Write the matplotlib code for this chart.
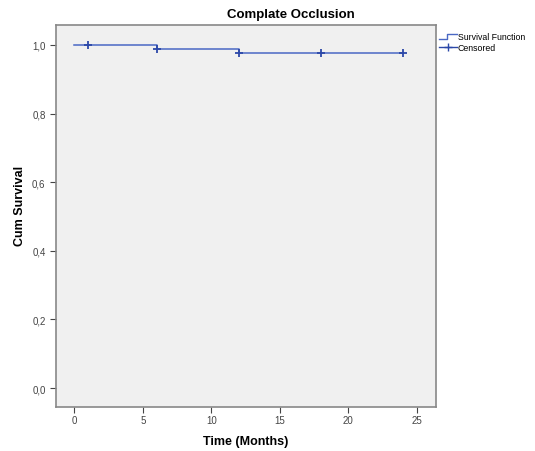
import matplotlib
matplotlib.use('Agg')
import matplotlib.pyplot as plt
from matplotlib.lines import Line2D
from matplotlib.legend_handler import HandlerBase
from matplotlib.ticker import FuncFormatter

plt.rcParams['font.family'] = ['Liberation Sans', 'DejaVu Sans']

# Kaplan-Meier estimate
step_times = [0, 6, 12, 24]
step_surv = [1.0, 0.988, 0.976, 0.976]
cens_times = [1, 6, 12, 18, 24]
cens_surv = [1.0, 0.988, 0.976, 0.976, 0.976]

line_col = '#4a68c4'
mark_col = '#2c48a8'


# step-shaped legend handle, like SPSS draws it
class StepHandler(HandlerBase):
    def create_artists(self, legend, orig, xd, yd, w, h, fontsize, trans):
        xs = [xd, xd + w * 0.45, xd + w * 0.45, xd + w]
        ys = [yd + h * 0.1, yd + h * 0.1, yd + h * 0.8, yd + h * 0.8]
        ln = Line2D(xs, ys, color=line_col, lw=1, transform=trans)
        return [ln]


fig = plt.figure(figsize=(5.35, 4.52), dpi=100)
ax = fig.add_axes([56 / 535, 1 - 408 / 452, 380 / 535, 382 / 452])
ax.set_facecolor('#f0f0f0')

ax.step(step_times, step_surv, where='post', color=line_col, lw=1.1)
ax.plot(cens_times, cens_surv, linestyle='none', marker='+', markersize=6,
        mew=1.3, color=mark_col)

ax.set_xlim(-1.35, 26.4)
ax.set_ylim(-0.055, 1.058)
ax.set_xticks([0, 5, 10, 15, 20, 25])
ax.set_yticks([0.0, 0.2, 0.4, 0.6, 0.8, 1.0])
ax.yaxis.set_major_formatter(FuncFormatter(lambda v, p: f'{v:.1f}'.replace('.', ',')))
ax.tick_params(labelsize=7, colors='#444444', length=4, width=0.8, direction='out')
ax.tick_params(axis='x', pad=2)
for s in ax.spines.values():
    s.set_color('#888888')
    s.set_linewidth(1.2)

ax.set_xlabel('Time (Months)', fontsize=9, fontweight='bold', labelpad=7)
ax.set_ylabel('Cum Survival', fontsize=9, fontweight='bold')
ax.yaxis.set_label_coords(-0.08, 0.53)
fig.text(291 / 535, 1 - 15 / 452, 'Complate Occlusion', fontsize=9.5,
         fontweight='bold', ha='center', va='center')

h1 = Line2D([], [], color=line_col)
h2 = Line2D([], [], color=mark_col, marker='+', markersize=6, lw=1)
ax.legend([h1, h2], ['Survival Function', 'Censored'], handler_map={h1: StepHandler()},
          loc='upper left', bbox_to_anchor=(0.995, 0.995), frameon=False,
          fontsize=6.3, handlelength=2.0, handletextpad=0.1, labelspacing=0.2,
          borderaxespad=0.2)

fig.savefig('out.png', dpi=100)
